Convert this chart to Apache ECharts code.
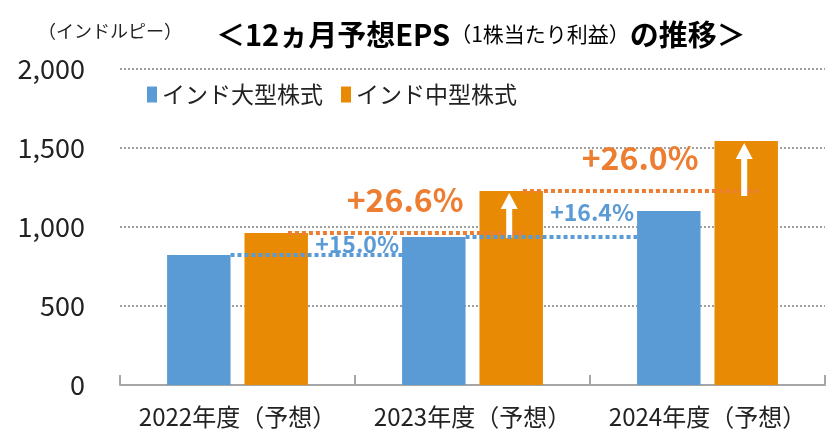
<!DOCTYPE html>
<html>
<head>
<meta charset="utf-8">
<script src="https://cdn.jsdelivr.net/npm/echarts@6/dist/echarts.min.js"></script>
<style>
  html, body { margin: 0; padding: 0; background: #fff; }
  #main { width: 827px; height: 433px; }
</style>
</head>
<body>
<div id="main"></div>
<script>
// データ
const categories = ['2022年度（予想）', '2023年度（予想）', '2024年度（予想）']
const largeCap = [823, 937, 1101]
const midCap = [962, 1228, 1545]
const largeGrowth = ['+15.0%', '+16.4%']
const midGrowth = ['+26.6%', '+26.0%']
const yTicks = [0, 500, 1000, 1500, 2000]

const BLUE = '#5B9BD5'
const ORANGE = '#E98A05'
const BLUE_TXT = '#5B9BD5'
const ORANGE_TXT = '#ED7D31'
const FONT = '"Noto Sans CJK JP", "Noto Sans", sans-serif'
const BAR_W = 0.27
const BAR_GAP = 0.22

// 伸び率の矢印・点線用データ [from, fromValue, toValue, kind, idx]
const growthData = []
for (let i = 0; i < categories.length - 1; i++) {
  growthData.push([i, largeCap[i], largeCap[i + 1], 0, i])
  growthData.push([i, midCap[i], midCap[i + 1], 1, i])
}

function renderGrowth (params, api) {
  const from = api.value(0)
  const kind = api.value(3)
  const idx = api.value(4)
  const p0 = api.coord([from, api.value(1)])
  const p1 = api.coord([from + 1, api.value(2)])
  const band = api.size([1, 0])[0]
  const bw = band * BAR_W
  const off = (bw + bw * BAR_GAP) / 2
  const sign = kind ? 1 : -1
  const x0 = p0[0] + sign * off + bw / 2
  const x1 = p1[0] + sign * off - bw / 2
  const y = p0[1]
  const color = kind ? ORANGE_TXT : BLUE
  const children = [{
    type: 'line',
    shape: { x1: kind ? x0 - 20 : x0, y1: y, x2: kind ? p1[0] + off + 13 : x1, y2: y },
    style: { stroke: color, lineWidth: 4, lineDash: [4, 3] }
  }]
  // ラベル
  const dy = kind ? 17 : (idx === 0 ? -1 : 13)
  const dx = kind ? 16 : 3
  children.push({
    type: 'text',
    style: {
      text: kind ? midGrowth[idx] : largeGrowth[idx],
      x: x1 - dx,
      y: y - dy,
      align: 'right',
      verticalAlign: 'bottom',
      font: kind ? 'bold 32px ' + FONT : 'bold 23px ' + FONT,
      fill: kind ? ORANGE_TXT : BLUE_TXT
    }
  })
  // 矢印（中型株のみ）
  if (kind) {
    const cx = p1[0] + off - 2
    const yb = y + 5
    const yt = p1[1] + 2
    const sw = 3
    const hw = 8.5
    const hh = 16
    children.push({
      type: 'polygon',
      shape: {
        points: [
          [cx - sw, yb], [cx - sw, yt + hh], [cx - hw, yt + hh], [cx, yt],
          [cx + hw, yt + hh], [cx + sw, yt + hh], [cx + sw, yb]
        ]
      },
      style: { fill: '#fff' }
    })
  }
  return { type: 'group', children: children }
}

const chart = echarts.init(document.getElementById('main'))
const option = {
  animation: false,
  textStyle: { fontFamily: FONT },
  title: {
    left: 216,
    top: 20,
    padding: 0,
    text: '{a|＜12ヵ月予想EPS}{b|（1株当たり利益）}{a|の推移＞}',
    textStyle: {
      rich: {
        a: { fontSize: 29, fontWeight: 'bold', color: '#000', fontFamily: FONT },
        b: { fontSize: 21, fontWeight: 'normal', color: '#000', fontFamily: FONT }
      }
    }
  },
  graphic: [{
    type: 'text',
    left: 38,
    top: 22,
    style: { text: '（インドルピー）', font: '18px ' + FONT, fill: '#222' }
  }],
  legend: {
    left: 142,
    top: 78,
    icon: 'rect',
    itemWidth: 10,
    itemHeight: 16,
    itemGap: 18,
    textStyle: { fontSize: 23, color: '#222', fontFamily: FONT },
    data: ['インド大型株式', 'インド中型株式']
  },
  grid: { left: 120, right: 2, top: 69, bottom: 48 },
  xAxis: {
    type: 'category',
    data: categories,
    axisLine: { lineStyle: { color: '#a6a6a6', width: 2 } },
    axisTick: { show: true, inside: true, length: 10, lineStyle: { color: '#a6a6a6', width: 2 } },
    axisLabel: { interval: 0, fontSize: 24, color: '#222', margin: 20, fontFamily: FONT }
  },
  yAxis: {
    type: 'value',
    min: yTicks[0],
    max: yTicks[yTicks.length - 1],
    interval: 500,
    axisLine: { show: false },
    axisTick: { show: false },
    axisLabel: {
      fontSize: 27,
      color: '#222',
      margin: 35,
      fontFamily: FONT,
      formatter: v => v.toLocaleString('en-US')
    },
    splitLine: { lineStyle: { color: '#a0a0a0', width: 2, type: [2, 2] } }
  },
  series: [
    {
      name: 'インド大型株式',
      type: 'bar',
      barWidth: (BAR_W * 100) + '%',
      barGap: (BAR_GAP * 100) + '%',
      itemStyle: { color: BLUE },
      data: largeCap
    },
    {
      name: 'インド中型株式',
      type: 'bar',
      barWidth: (BAR_W * 100) + '%',
      barGap: (BAR_GAP * 100) + '%',
      itemStyle: { color: ORANGE },
      data: midCap
    },
    {
      type: 'custom',
      renderItem: renderGrowth,
      encode: { x: 0, y: 1 },
      z: 5,
      silent: true,
      data: growthData
    }
  ]
}
chart.setOption(option)
</script>
</body>
</html>
